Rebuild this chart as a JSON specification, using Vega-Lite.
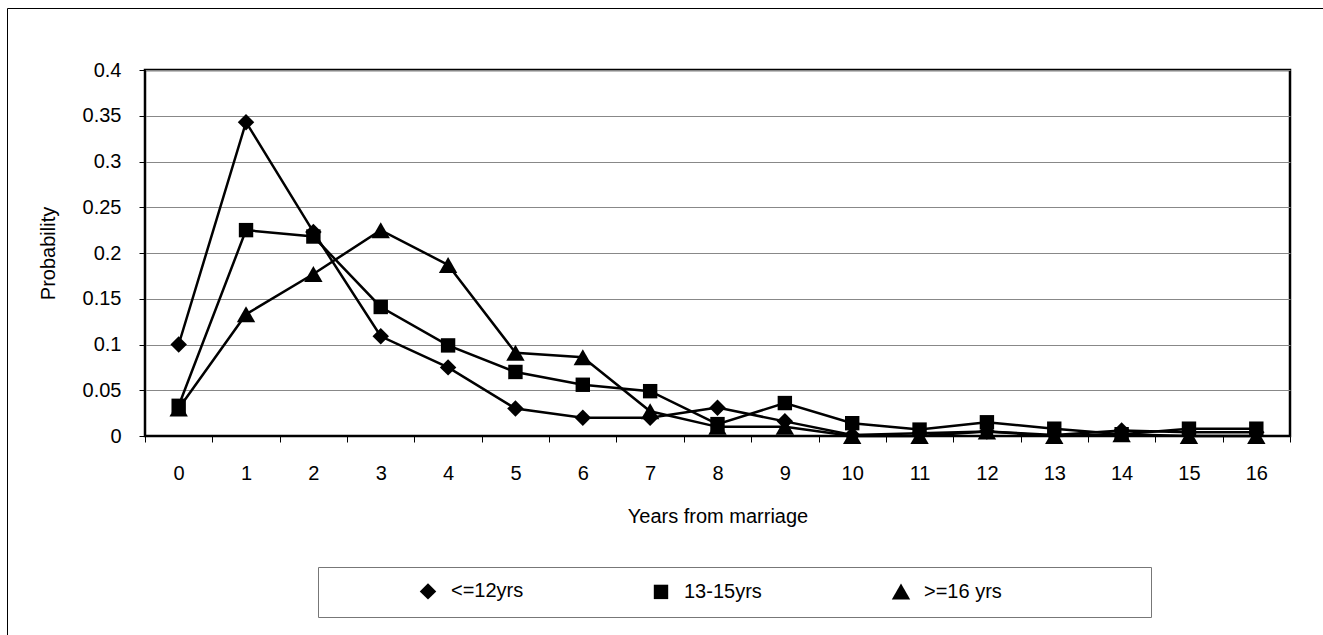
{
  "$schema": "https://vega.github.io/schema/vega-lite/v6.json",
  "width": 1145,
  "height": 366,
  "autosize": {"type": "none"},
  "padding": {"left": 145, "top": 70, "right": 33, "bottom": 199},
  "background": "white",
  "config": {
    "font": "Liberation Sans",
    "view": {"stroke": "black", "strokeWidth": 2.5},
    "axis": {"labelColor": "black", "titleColor": "black", "tickColor": "black", "domainColor": "black", "labelFontSize": 20, "titleFontSize": 20, "titleFontWeight": "normal", "labelFont": "Liberation Sans", "titleFont": "Liberation Sans"}
  },
  "data": {
    "values": [
      {"year": 0, "series": "<=12yrs", "p": 0.100},
      {"year": 1, "series": "<=12yrs", "p": 0.343},
      {"year": 2, "series": "<=12yrs", "p": 0.223},
      {"year": 3, "series": "<=12yrs", "p": 0.109},
      {"year": 4, "series": "<=12yrs", "p": 0.075},
      {"year": 5, "series": "<=12yrs", "p": 0.030},
      {"year": 6, "series": "<=12yrs", "p": 0.020},
      {"year": 7, "series": "<=12yrs", "p": 0.020},
      {"year": 8, "series": "<=12yrs", "p": 0.031},
      {"year": 9, "series": "<=12yrs", "p": 0.016},
      {"year": 10, "series": "<=12yrs", "p": 0.001},
      {"year": 11, "series": "<=12yrs", "p": 0.003},
      {"year": 12, "series": "<=12yrs", "p": 0.005},
      {"year": 13, "series": "<=12yrs", "p": 0.001},
      {"year": 14, "series": "<=12yrs", "p": 0.006},
      {"year": 15, "series": "<=12yrs", "p": 0.004},
      {"year": 16, "series": "<=12yrs", "p": 0.004},
      {"year": 0, "series": "13-15yrs", "p": 0.033},
      {"year": 1, "series": "13-15yrs", "p": 0.225},
      {"year": 2, "series": "13-15yrs", "p": 0.218},
      {"year": 3, "series": "13-15yrs", "p": 0.141},
      {"year": 4, "series": "13-15yrs", "p": 0.099},
      {"year": 5, "series": "13-15yrs", "p": 0.070},
      {"year": 6, "series": "13-15yrs", "p": 0.056},
      {"year": 7, "series": "13-15yrs", "p": 0.049},
      {"year": 8, "series": "13-15yrs", "p": 0.013},
      {"year": 9, "series": "13-15yrs", "p": 0.036},
      {"year": 10, "series": "13-15yrs", "p": 0.014},
      {"year": 11, "series": "13-15yrs", "p": 0.007},
      {"year": 12, "series": "13-15yrs", "p": 0.015},
      {"year": 13, "series": "13-15yrs", "p": 0.008},
      {"year": 14, "series": "13-15yrs", "p": 0.002},
      {"year": 15, "series": "13-15yrs", "p": 0.008},
      {"year": 16, "series": "13-15yrs", "p": 0.008},
      {"year": 0, "series": ">=16 yrs", "p": 0.030},
      {"year": 1, "series": ">=16 yrs", "p": 0.133},
      {"year": 2, "series": ">=16 yrs", "p": 0.177},
      {"year": 3, "series": ">=16 yrs", "p": 0.225},
      {"year": 4, "series": ">=16 yrs", "p": 0.187},
      {"year": 5, "series": ">=16 yrs", "p": 0.091},
      {"year": 6, "series": ">=16 yrs", "p": 0.086},
      {"year": 7, "series": ">=16 yrs", "p": 0.027},
      {"year": 8, "series": ">=16 yrs", "p": 0.010},
      {"year": 9, "series": ">=16 yrs", "p": 0.010},
      {"year": 10, "series": ">=16 yrs", "p": 0.000},
      {"year": 11, "series": ">=16 yrs", "p": 0.000},
      {"year": 12, "series": ">=16 yrs", "p": 0.005},
      {"year": 13, "series": ">=16 yrs", "p": 0.000},
      {"year": 14, "series": ">=16 yrs", "p": 0.002},
      {"year": 15, "series": ">=16 yrs", "p": 0.000},
      {"year": 16, "series": ">=16 yrs", "p": 0.000}
    ]
  },
  "encoding": {
    "x": {
      "field": "year",
      "type": "ordinal",
      "bandPosition": 0.5,
      "scale": {"type": "band", "paddingInner": 0, "paddingOuter": 0},
      "axis": {
        "title": "Years from marriage",
        "tickBand": "extent",
        "labelAngle": 0,
        "tickSize": 6,
        "labelPadding": 31,
        "labelBaseline": "middle",
        "grid": false,
        "titleX": 572.5,
        "titleY": 80,
        "titleBaseline": "middle",
        "titleAlign": "center"
      }
    },
    "y": {
      "field": "p",
      "type": "quantitative",
      "scale": {"domain": [0, 0.4], "nice": false, "zero": true},
      "axis": {
        "title": "Probability",
        "values": [0, 0.05, 0.1, 0.15, 0.2, 0.25, 0.3, 0.35, 0.4],
        "format": "~g",
        "grid": true,
        "gridColor": "#888888",
        "gridWidth": 1,
        "tickSize": 6,
        "labelPadding": 18,
        "titleX": -97,
        "titleY": 183,
        "titleAngle": -90,
        "titleBaseline": "middle",
        "titleAlign": "center"
      }
    }
  },
  "layer": [
    {
      "mark": {"type": "line", "color": "black", "strokeWidth": 2.5},
      "encoding": {"detail": {"field": "series"}}
    },
    {
      "mark": {"type": "point", "filled": true, "color": "black", "opacity": 1, "size": 256},
      "encoding": {
        "shape": {
          "field": "series",
          "type": "nominal",
          "scale": {
            "domain": ["<=12yrs", "13-15yrs", ">=16 yrs"],
            "range": ["M0,-1.03L1.03,0L0,1.03L-1.03,0Z", "M-0.9,-0.9L0.9,-0.9L0.9,0.9L-0.9,0.9Z", "M0,-1L1.15,1L-1.15,1Z"]
          },
          "legend": {
            "orient": "none",
            "legendX": 173,
            "legendY": 497,
            "direction": "horizontal",
            "title": "\u00a0",
            "titleOrient": "left",
            "titlePadding": 86,
            "titleFontSize": 20,
            "padding": 14,
            "strokeColor": "#777777",
            "fillColor": "white",
            "labelFontSize": 20,
            "labelColor": "black",
            "labelOffset": 13,
            "columnPadding": 126,
            "labelLimit": 1000,
            "symbolSize": 256,
            "labelExpr": "datum.label == '>=16 yrs' ? pad(datum.label, 17, '\u2800') : datum.label",
            "encode": {
              "symbols": {
                "fill": {"value": "black"},
                "opacity": {"value": 1}
              }
            }
          }
        },
        "strokeWidth": {
          "field": "year",
          "type": "ordinal",
          "legend": {
            "orient": "none",
            "legendX": -138,
            "legendY": -62,
            "values": [0],
            "title": "MMMMMMMMM",
            "titleFontSize": 100,
            "titleLimit": 5000,
            "titleOpacity": 0,
            "labelOpacity": 0,
            "symbolOpacity": 0,
            "padding": 310,
            "strokeColor": "black",
            "encode": {"legend": {"strokeWidth": {"value": 2}}}
          }
        }
      }
    }
  ]
}
